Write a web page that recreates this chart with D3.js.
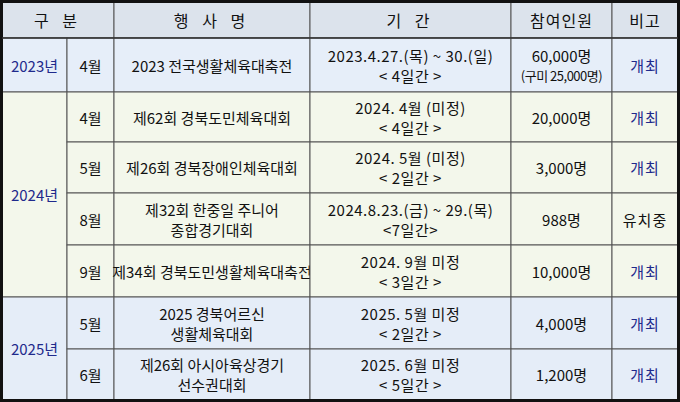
<!DOCTYPE html>
<html><head><meta charset="utf-8">
<script src="https://cdn.jsdelivr.net/npm/d3@7"></script>
<style>body{margin:0;background:#fff}text{font-family:"Noto Sans CJK KR",sans-serif}</style>
</head><body><div id="graph"></div>
<script>
// table content
const headers = ['구 분', '행 사 명', '기 간', '참여인원', '비고'];
const years = ['2023년', '2024년', '2025년'];
const yearSpans = [1, 4, 2];
const months = ['4월', '4월', '5월', '8월', '9월', '5월', '6월'];
const events = [
  ['2023 전국생활체육대축전'],
  ['제62회 경북도민체육대회'],
  ['제26회 경북장애인체육대회'],
  ['제32회 한중일 주니어', '종합경기대회'],
  ['제34회 경북도민생활체육대축전'],
  ['2025 경북어르신', '생활체육대회'],
  ['제26회 아시아육상경기', '선수권대회']
];
const periods = [
  ['2023.4.27.(목) ~ 30.(일)', '< 4일간 >'],
  ['2024. 4월 (미정)', '< 4일간 >'],
  ['2024. 5월 (미정)', '< 2일간 >'],
  ['2024.8.23.(금) ~ 29.(목)', '<7일간>'],
  ['2024. 9월 미정', '< 3일간 >'],
  ['2025. 5월 미정', '< 2일간 >'],
  ['2025. 6월 미정', '< 5일간 >']
];
const people = [['60,000명', '(구미 25,000명)'], ['20,000명'], ['3,000명'], ['988명'], ['10,000명'], ['4,000명'], ['1,200명']];
const notes = ['개최', '개최', '개최', '유치중', '개최', '개최', '개최'];

const W = 680, H = 402;
const colX = [2, 67, 114, 310, 511, 612, 678];
const rowY = [2, 38, 92, 142, 193, 245, 297, 349, 400];
const yearFill = ['#e6eef9', '#f3f7eb', '#e5edf8'];
const navy = '#1f2a8c';

const svg = d3.select('#graph').append('svg').attr('width', W).attr('height', H);

function cell(x0, x1, y0, y1, fill, lines, color, size, spacing) {
  svg.append('rect').attr('x', x0).attr('y', y0).attr('width', x1 - x0).attr('height', y1 - y0)
    .attr('fill', fill).attr('stroke', '#555').attr('stroke-width', 1);
  const cy = (y0 + y1) / 2, lh = 20;
  lines.forEach((t, i) => {
    const small = i === 1 && t.startsWith('(');
    svg.append('text').attr('x', (x0 + x1) / 2).attr('y', cy + (i - (lines.length - 1) / 2) * lh)
      .attr('text-anchor', 'middle').attr('dominant-baseline', 'central')
      .attr('font-size', small ? 13 : (size || 15))
      .attr('letter-spacing', small ? -0.5 : (spacing || 0))
      .attr('fill', color || '#111').text(t);
  });
}

// header
const hCols = [[0, 2], [2, 3], [3, 4], [4, 5], [5, 6]];
headers.forEach((h, i) => cell(colX[hCols[i][0]], colX[hCols[i][1]], rowY[0], rowY[1], '#dce3ec', [h], '#111', 16,
  h.includes(' ') ? 5 : 1));

// year groups
let r = 0;
years.forEach((y, g) => {
  cell(colX[0], colX[1], rowY[r + 1], rowY[r + 1 + yearSpans[g]], yearFill[g], [y], navy);
  for (let k = 0; k < yearSpans[g]; k++) {
    const i = r + k, y0 = rowY[i + 1], y1 = rowY[i + 2];
    cell(colX[1], colX[2], y0, y1, yearFill[g], [months[i]]);
    cell(colX[2], colX[3], y0, y1, yearFill[g], events[i]);
    cell(colX[3], colX[4], y0, y1, yearFill[g], periods[i], '#111', 15, 0.5);
    cell(colX[4], colX[5], y0, y1, yearFill[g], people[i]);
    cell(colX[5], colX[6], y0, y1, yearFill[g], [notes[i]], notes[i] === '개최' ? navy : '#111', 15, 1);
  }
  r += yearSpans[g];
});

// thick outer border and header separator
svg.append('rect').attr('x', 1.5).attr('y', 1.5).attr('width', W - 3).attr('height', 399)
  .attr('fill', 'none').attr('stroke', '#111').attr('stroke-width', 3);
svg.append('line').attr('x1', 2).attr('x2', W - 2).attr('y1', rowY[1]).attr('y2', rowY[1])
  .attr('stroke', '#333').attr('stroke-width', 1.5);
</script></body></html>
